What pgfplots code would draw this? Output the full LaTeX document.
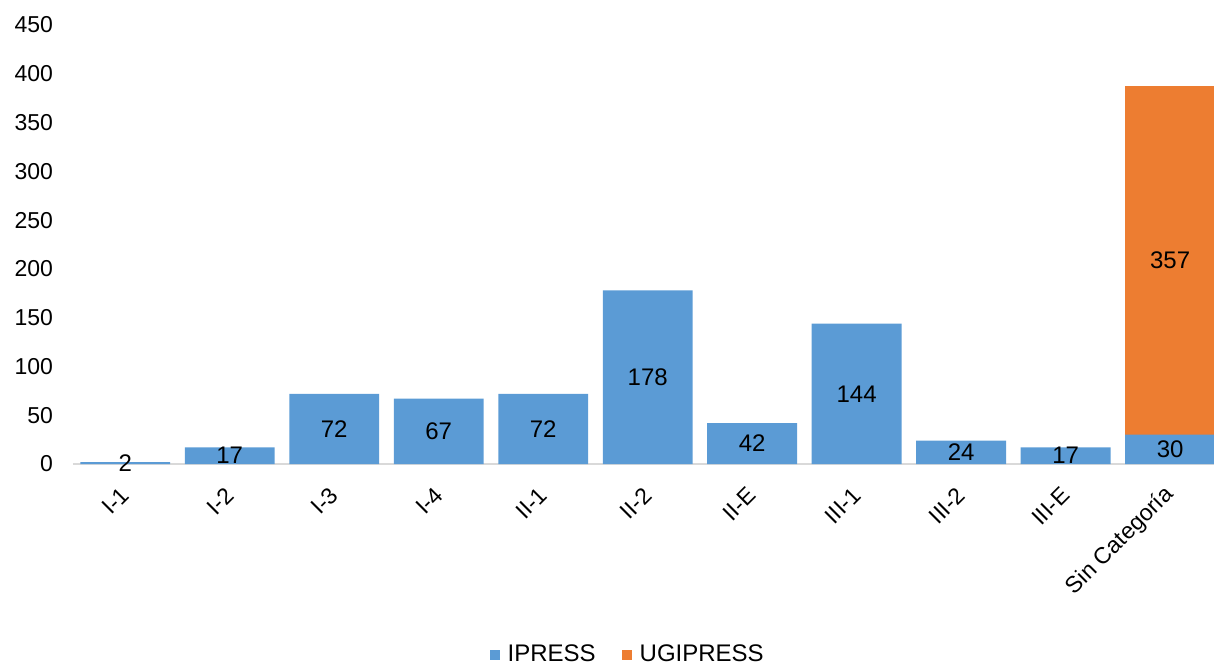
\documentclass[border=0pt]{standalone}
\usepackage{pgfplots}
\pgfplotsset{compat=1.18}
\usepackage{fontspec}
\setmainfont{Liberation Sans}
\definecolor{ipress}{HTML}{5B9BD5}
\definecolor{ugipress}{HTML}{ED7D31}
\definecolor{baseline}{HTML}{D9D9D9}
\begin{document}
\begin{tikzpicture}
\useasboundingbox (-36.5pt,-102pt) rectangle (570.5pt,232pt);
\pgfplotsset{
  common/.style={
    at={(0,0)}, anchor=south west,
    scale only axis,
    width=570.5pt, height=232pt,
    xmin=-0.5, xmax=10.42,
    ymin=0, ymax=475.6,
  },
}
\begin{axis}[
  common,
  ybar stacked,
  bar width=0.86,
  axis x line*=bottom,
  axis y line*=left,
  y axis line style={draw=none},
  x axis line style={draw=baseline, line width=1pt},
  tick style={draw=none},
  ytick={0,50,...,450},
  xtick={0,...,10},
  xticklabels={I-1,I-2,I-3,I-4,II-1,II-2,II-E,III-1,III-2,III-E,Sin Categoría},
  tick label style={font=\fontsize{11.5}{13}\selectfont},
  yticklabel style={anchor=east, xshift=-6.5pt},
  xticklabel style={xshift=2.4pt, yshift=-11.2pt, rotate=45, anchor=east},
  /pgf/number format/assume math mode=true,
  legend style={at={(0.487,-0.4116)}, anchor=center, legend columns=2,
    draw=none, font=\fontsize{12}{14}\selectfont,
    /tikz/every odd column/.append style={column sep=2pt},
    /tikz/every even column/.append style={column sep=11pt}},
  legend image code/.code={\fill[#1] (0pt,-2.5pt) rectangle (5pt,2.5pt);},
]
\addplot[fill=ipress, draw=none] coordinates {
  (0,2) (1,17) (2,72) (3,67) (4,72) (5,178) (6,42) (7,144) (8,24) (9,17) (10,30)
};
\addlegendentry{IPRESS}
\addplot[fill=ugipress, draw=none] coordinates {
  (0,0) (1,0) (2,0) (3,0) (4,0) (5,0) (6,0) (7,0) (8,0) (9,0) (10,357)
};
\addlegendentry{UGIPRESS}
\end{axis}
% labels centred in each segment
\begin{axis}[
  common,
  hide axis,
  nodes near coords,
  point meta=explicit symbolic,
  every node near coord/.style={anchor=center, font=\fontsize{12}{14}\selectfont},
]
\addplot[only marks, mark=none] coordinates {
  (0,1)[2] (1,8.5)[17] (2,36)[72] (3,33.5)[67] (4,36)[72] (5,89)[178]
  (6,21)[42] (7,72)[144] (8,12)[24] (9,8.5)[17] (10,15)[30] (10,208.5)[357]
};
\end{axis}
\end{tikzpicture}
\end{document}
